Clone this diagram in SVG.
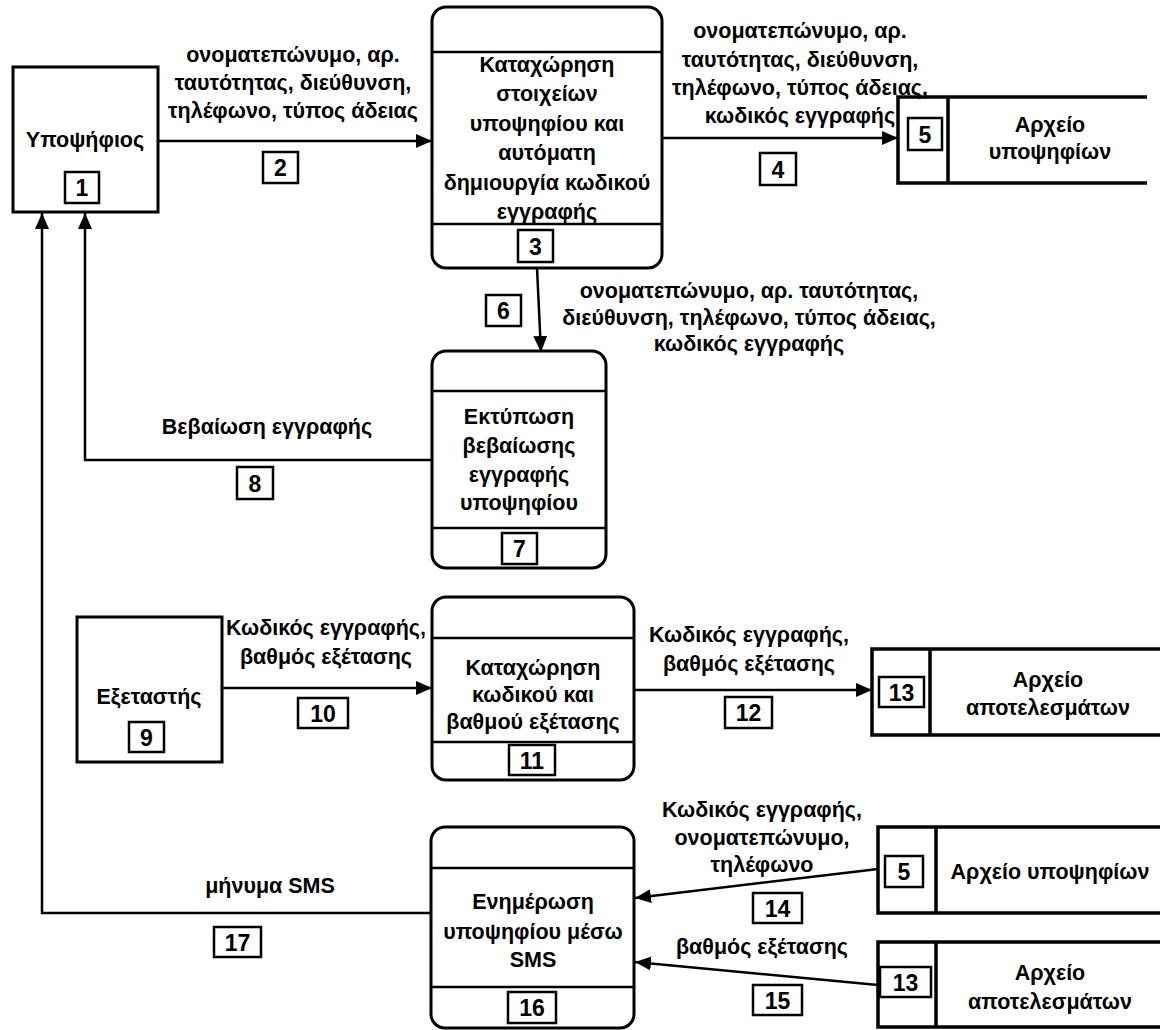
<svg xmlns="http://www.w3.org/2000/svg" width="1162" height="1030" viewBox="0 0 1162 1030">
<defs>
<marker id="ah" markerUnits="userSpaceOnUse" markerWidth="18" markerHeight="15" refX="16" refY="7" orient="auto">
<path d="M0,0 L16,7 L0,14 z" fill="#000"/>
</marker>
<style>
.box{fill:#fff;stroke:#000;stroke-width:3}
.nb{fill:#fff;stroke:#000;stroke-width:2.5}
.ln{fill:none;stroke:#000;stroke-width:2.5}
.st{fill:none;stroke:#000;stroke-width:3.5}
text{font-family:"Liberation Sans",Arial,sans-serif;font-weight:bold;font-size:21.5px;text-anchor:middle;fill:#000}
.num{font-size:23px}
</style>
</defs>
<rect width="1162" height="1030" fill="#fff"/>

<g id="connectors">
<line class="ln" x1="158" y1="141" x2="432" y2="141" marker-end="url(#ah)"/>
<line class="ln" x1="662" y1="138" x2="898" y2="138" marker-end="url(#ah)"/>
<line class="ln" x1="537" y1="268" x2="541" y2="352" marker-end="url(#ah)"/>
<polyline class="ln" points="432,460 85,460 85,213" marker-end="url(#ah)"/>
<polyline class="ln" points="431,913 42,913 42,213" marker-end="url(#ah)"/>
<line class="ln" x1="222" y1="688" x2="432" y2="688" marker-end="url(#ah)"/>
<line class="ln" x1="634" y1="690" x2="872" y2="690" marker-end="url(#ah)"/>
<line class="ln" x1="878" y1="869" x2="635" y2="898" marker-end="url(#ah)"/>
<line class="ln" x1="878" y1="985" x2="635" y2="962" marker-end="url(#ah)"/>
<g id="flow-labels">
<text x="293" y="62">ονοματεπώνυμο, αρ.</text>
<text x="293" y="90">ταυτότητας, διεύθυνση,</text>
<text x="293" y="118">τηλέφωνο, τύπος άδειας</text>
<rect class="nb" x="263" y="152" width="35" height="31"/><text class="num" x="280.5" y="176">2</text>

<text x="800" y="38">ονοματεπώνυμο, αρ.</text>
<text x="800" y="67">ταυτότητας, διεύθυνση,</text>
<text x="800" y="95">τηλέφωνο, τύπος άδειας,</text>
<text x="800" y="123">κωδικός εγγραφής</text>
<rect class="nb" x="760" y="153" width="36" height="32"/><text class="num" x="778" y="177.5">4</text>

<rect class="nb" x="486" y="295" width="35" height="31"/><text class="num" x="503.5" y="319">6</text>
<text x="749" y="298">ονοματεπώνυμο, αρ. ταυτότητας,</text>
<text x="749" y="325">διεύθυνση, τηλέφωνο, τύπος άδειας,</text>
<text x="749" y="351">κωδικός εγγραφής</text>

<text x="267" y="434">Βεβαίωση εγγραφής</text>
<rect class="nb" x="237" y="467" width="36" height="32"/><text class="num" x="255" y="491.5">8</text>

<text x="326" y="635">Κωδικός εγγραφής,</text>
<text x="326" y="664">βαθμός εξέτασης</text>
<rect class="nb" x="298" y="698" width="50" height="30"/><text class="num" x="323" y="721.5">10</text>

<text x="749" y="642">Κωδικός εγγραφής,</text>
<text x="749" y="671">βαθμός εξέτασης</text>
<rect class="nb" x="725" y="697" width="47" height="31"/><text class="num" x="748.5" y="721">12</text>

<text x="762" y="817">Κωδικός εγγραφής,</text>
<text x="762" y="845">ονοματεπώνυμο,</text>
<text x="762" y="872">τηλέφωνο</text>
<rect class="nb" x="753" y="893" width="49" height="30"/><text class="num" x="777.5" y="916.5">14</text>

<text x="762" y="954">βαθμός εξέτασης</text>
<rect class="nb" x="753" y="985" width="49" height="30"/><text class="num" x="777.5" y="1008.5">15</text>

<text x="270" y="893">μήνυμα SMS</text>
<rect class="nb" x="214" y="927" width="47" height="30"/><text class="num" x="237.5" y="950.5">17</text>
</g>
</g>

<g id="node-1">
<rect class="box" x="13" y="67" width="145" height="145"/>
<text x="85" y="147">Υποψήφιος</text>
<rect class="nb" x="65" y="172" width="34" height="31"/><text class="num" x="82" y="196">1</text>
</g>

<g id="node-3">
<rect class="box" x="432" y="7" width="230" height="261" rx="14"/>
<line class="ln" x1="432" y1="52" x2="662" y2="52"/>
<line class="ln" x1="432" y1="224" x2="662" y2="224"/>
<text x="547" y="72">Καταχώρηση</text>
<text x="547" y="101">στοιχείων</text>
<text x="547" y="131">υποψηφίου και</text>
<text x="547" y="160">αυτόματη</text>
<text x="547" y="190">δημιουργία κωδικού</text>
<text x="547" y="219">εγγραφής</text>
<rect class="nb" x="518" y="230" width="35" height="32"/><text class="num" x="535.5" y="254.5">3</text>
</g>

<g id="store-5">
<path class="st" d="M1147,97 H898 V183 H1147 M948,97 V183"/>
<rect class="nb" x="908" y="118" width="34" height="32"/><text class="num" x="925" y="142.5">5</text>
<text x="1050" y="132">Αρχείο</text>
<text x="1050" y="159">υποψηφίων</text>
</g>

<g id="node-7">
<rect class="box" x="432" y="351" width="174" height="217" rx="14"/>
<line class="ln" x1="432" y1="391" x2="606" y2="391"/>
<line class="ln" x1="432" y1="528" x2="606" y2="528"/>
<text x="519" y="424">Εκτύπωση</text>
<text x="519" y="453">βεβαίωσης</text>
<text x="519" y="482">εγγραφής</text>
<text x="519" y="510">υποψηφίου</text>
<rect class="nb" x="502" y="533" width="35" height="31"/><text class="num" x="519.5" y="557">7</text>
</g>

<g id="node-9">
<rect class="box" x="77" y="617" width="145" height="145"/>
<text x="149" y="704">Εξεταστής</text>
<rect class="nb" x="129" y="722" width="35" height="30"/><text class="num" x="146.5" y="745.5">9</text>
</g>

<g id="node-11">
<rect class="box" x="432" y="597" width="202" height="183" rx="14"/>
<line class="ln" x1="432" y1="638" x2="634" y2="638"/>
<line class="ln" x1="432" y1="742" x2="634" y2="742"/>
<text x="533" y="675">Καταχώρηση</text>
<text x="533" y="702">κωδικού και</text>
<text x="533" y="729">βαθμού εξέτασης</text>
<rect class="nb" x="509" y="745" width="46" height="30"/><text class="num" x="532" y="768.5">11</text>
</g>

<g id="store-13-top">
<path class="st" d="M1160,649 H872 V735 H1160 M930,649 V735"/>
<rect class="nb" x="879" y="677" width="45" height="30"/><text class="num" x="901.5" y="700.5">13</text>
<text x="1048" y="687">Αρχείο</text>
<text x="1048" y="715">αποτελεσμάτων</text>
</g>

<g id="node-16">
<rect class="box" x="431" y="827" width="203" height="201" rx="14"/>
<line class="ln" x1="431" y1="868" x2="634" y2="868"/>
<line class="ln" x1="431" y1="987" x2="634" y2="987"/>
<text x="533" y="909">Ενημέρωση</text>
<text x="533" y="939">υποψηφίου μέσω</text>
<text x="533" y="967">SMS</text>
<rect class="nb" x="508" y="992" width="48" height="31"/><text class="num" x="532" y="1016">16</text>
</g>

<g id="store-5-bottom">
<path class="st" d="M1160,827 H878 V913 H1160 M936,827 V913"/>
<rect class="nb" x="885" y="856" width="38" height="31"/><text class="num" x="904" y="880">5</text>
<text x="1050" y="879">Αρχείο υποψηφίων</text>
</g>

<g id="store-13-bottom">
<path class="st" d="M1160,942 H878 V1027 H1160 M936,942 V1027"/>
<rect class="nb" x="880" y="967" width="51" height="30"/><text class="num" x="905.5" y="990.5">13</text>
<text x="1050" y="980">Αρχείο</text>
<text x="1050" y="1009">αποτελεσμάτων</text>
</g>
</svg>
